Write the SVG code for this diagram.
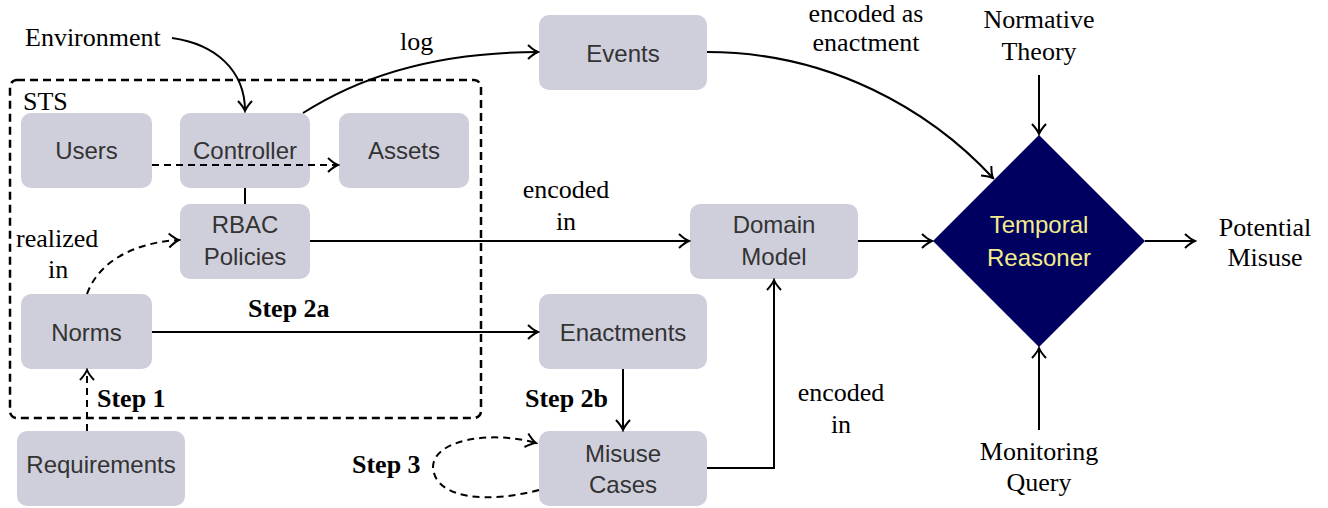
<svg xmlns="http://www.w3.org/2000/svg" width="1328" height="508" viewBox="0 0 1328 508">
<style>
.node{fill:#cfcfdc;}
.nt{font-family:"Liberation Sans",Arial,sans-serif;font-size:24px;fill:#333;text-anchor:middle;}
.lbl{font-family:"Liberation Serif","Times New Roman",serif;font-size:26px;fill:#000;}
.b{font-weight:bold;}
.c{text-anchor:middle;}
.ln{fill:none;stroke:#000;stroke-width:2;}
.d{stroke-dasharray:7,5;}
</style>
<defs>
<marker id="ar" viewBox="-12 -8 14 16" markerWidth="14" markerHeight="16" refX="0" refY="0" orient="auto" markerUnits="userSpaceOnUse">
<path d="M-10,-7 Q-4,-1.5 0,0 Q-4,1.5 -10,7" fill="none" stroke="#000" stroke-width="2"/>
</marker>
</defs>
<rect id="sts" x="10" y="80" width="471" height="338" rx="7" fill="none" stroke="#000" stroke-width="2.5" stroke-dasharray="8,5"/>
<text class="lbl" x="23" y="110">STS</text>
<g id="users"><rect class="node" x="21" y="113" width="131" height="75" rx="10"/><text class="nt" x="86.5" y="159">Users</text></g>
<g id="controller"><rect class="node" x="180" y="113" width="130" height="75" rx="10"/><text class="nt" x="245" y="159">Controller</text></g>
<g id="assets"><rect class="node" x="339" y="113" width="130" height="75" rx="10"/><text class="nt" x="404" y="159">Assets</text></g>
<g id="rbac"><rect class="node" x="180" y="204" width="130" height="75" rx="10"/><text class="nt" x="245" y="233">RBAC</text><text class="nt" x="245" y="265">Policies</text></g>
<g id="norms"><rect class="node" x="21" y="294" width="131" height="75" rx="10"/><text class="nt" x="86.5" y="341">Norms</text></g>
<g id="requirements"><rect class="node" x="17" y="431" width="168" height="75" rx="10"/><text class="nt" x="101" y="473">Requirements</text></g>
<g id="events"><rect class="node" x="539" y="15" width="168" height="75" rx="10"/><text class="nt" x="623" y="62">Events</text></g>
<g id="domain"><rect class="node" x="690" y="204" width="168" height="75" rx="10"/><text class="nt" x="774" y="233">Domain</text><text class="nt" x="774" y="265">Model</text></g>
<g id="enactments"><rect class="node" x="539" y="294" width="168" height="75" rx="10"/><text class="nt" x="623" y="341">Enactments</text></g>
<g id="misuse"><rect class="node" x="539" y="431" width="168" height="75" rx="10"/><text class="nt" x="623" y="462">Misuse</text><text class="nt" x="623" y="493">Cases</text></g>
<g id="reasoner"><polygon points="1039,135 1145,241 1039,347 933,241" fill="#000060"/><text class="nt" x="1039" y="233" style="fill:#f2ec8c">Temporal</text><text class="nt" x="1039" y="266" style="fill:#f2ec8c">Reasoner</text></g>
<g id="environment"><text class="lbl" x="25" y="46">Environment</text></g>
<g id="normative"><text class="lbl c" x="1039" y="28">Normative</text><text class="lbl c" x="1039" y="60">Theory</text></g>
<g id="monitoring"><text class="lbl c" x="1039" y="460">Monitoring</text><text class="lbl c" x="1039" y="491">Query</text></g>
<g id="potential"><text class="lbl c" x="1265" y="236">Potential</text><text class="lbl c" x="1265" y="266">Misuse</text></g>
<g id="connectors">
<path class="ln" d="M172,38 C215,44 245,70 245,111" marker-end="url(#ar)"/>
<path class="ln" d="M303,113 C370,70 450,52 538,52" marker-end="url(#ar)"/>
<path class="ln d" d="M152,165 H338" marker-end="url(#ar)"/>
<path class="ln" d="M245,188 V204"/>
<path class="ln" d="M310,241 H689" marker-end="url(#ar)"/>
<path class="ln d" d="M87,294 C100,258 140,242 179,240" marker-end="url(#ar)"/>
<path class="ln" d="M152,332 H538" marker-end="url(#ar)"/>
<path class="ln d" d="M87,431 V370" marker-end="url(#ar)"/>
<path class="ln" d="M623,369 V430" marker-end="url(#ar)"/>
<path class="ln d" d="M539,490 C490,503 436,500 433,468 C432,440 490,430 536,443" marker-end="url(#ar)"/>
<path class="ln" d="M707,468 H774 V280" marker-end="url(#ar)"/>
<path class="ln" d="M858,241 H932" marker-end="url(#ar)"/>
<path class="ln" d="M707,52 C830,52 930,110 993,178" marker-end="url(#ar)"/>
<path class="ln" d="M1039,75 V134" marker-end="url(#ar)"/>
<path class="ln" d="M1039,430 V348" marker-end="url(#ar)"/>
<path class="ln" d="M1145,241 H1195" marker-end="url(#ar)"/>
<text class="lbl" x="400" y="50">log</text>
<text class="lbl" x="16" y="247">realized</text>
<text class="lbl" x="48" y="278">in</text>
<text class="lbl b" x="248" y="317">Step  2a</text>
<text class="lbl b" x="97" y="407">Step  1</text>
<text class="lbl b" x="525" y="407">Step  2b</text>
<text class="lbl b" x="352" y="473">Step  3</text>
<text class="lbl c" x="566" y="198">encoded</text>
<text class="lbl c" x="566" y="230">in</text>
<text class="lbl c" x="866" y="22">encoded as</text>
<text class="lbl c" x="866" y="51">enactment</text>
<text class="lbl c" x="841" y="401">encoded</text>
<text class="lbl c" x="841" y="433">in</text>
</g>
</svg>
